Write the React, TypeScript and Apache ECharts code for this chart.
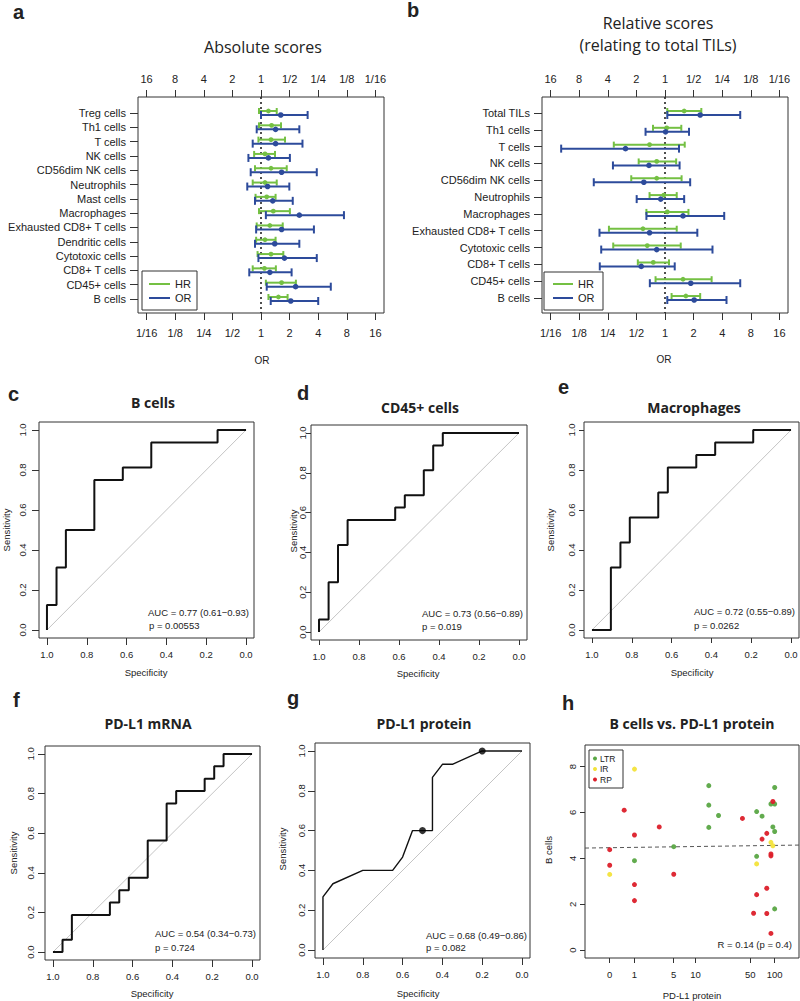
import React, { useEffect, useRef } from "react";
import * as echarts from "echarts";

const FONT = '"Liberation Sans", Arial, Helvetica, sans-serif';
const TFONT = '"Open Sans", "Noto Sans", sans-serif';
const INK = "#222";
const GREEN = "#74c043";
const BLUE = "#2d4b9b";

// ---------- Forest plots (values are log2 of the ratio: [lower, estimate, upper]) ----------
const LOG2_TICKS = [-4, -3, -2, -1, 0, 1, 2, 3, 4];
const OR_BOTTOM_LABELS = ["1/16", "1/8", "1/4", "1/2", "1", "2", "4", "8", "16"];
const OR_TOP_LABELS = ["16", "8", "4", "2", "1", "1/2", "1/4", "1/8", "1/16"];
const REF_LOG2 = 0;

const absCategories = [
  "Treg cells", "Th1 cells", "T cells", "NK cells", "CD56dim NK cells", "Neutrophils",
  "Mast cells", "Macrophages", "Exhausted CD8+ T cells", "Dendritic cells",
  "Cytotoxic cells", "CD8+ T cells", "CD45+ cells", "B cells",
];
const absHR = [
  [-0.07, 0.26, 0.55], [-0.07, 0.37, 0.7], [-0.09, 0.35, 0.84], [-0.24, 0.14, 0.49],
  [-0.21, 0.35, 0.9], [-0.29, 0.14, 0.55], [-0.19, 0.2, 0.51], [-0.07, 0.43, 1.01],
  [-0.15, 0.31, 0.76], [-0.17, 0.14, 0.51], [-0.12, 0.35, 0.78], [-0.29, 0.12, 0.52],
  [0.17, 0.72, 1.22], [0.26, 0.61, 0.93],
];
const absOR = [
  [0.0, 0.69, 1.63], [-0.15, 0.51, 1.34], [-0.29, 0.51, 1.45], [-0.44, 0.26, 1.01],
  [-0.36, 0.72, 1.95], [-0.48, 0.23, 0.99], [-0.21, 0.41, 1.11], [0.17, 1.34, 2.9],
  [-0.17, 0.72, 1.85], [-0.21, 0.48, 1.34], [-0.09, 0.82, 1.95], [-0.41, 0.31, 1.07],
  [0.2, 1.21, 2.44], [0.34, 1.04, 2.0],
];

const relCategories = [
  "Total TILs", "Th1 cells", "T cells", "NK cells", "CD56dim NK cells", "Neutrophils",
  "Macrophages", "Exhausted CD8+ T cells", "Cytotoxic cells", "CD8+ T cells",
  "CD45+ cells", "B cells",
];
const relHR = [
  [0.08, 0.67, 1.27], [-0.42, 0.06, 0.57], [-1.79, -0.54, 0.69], [-0.92, -0.29, 0.39],
  [-1.18, -0.29, 0.58], [-0.54, -0.04, 0.41], [-0.65, 0.08, 0.82], [-1.96, -0.77, 0.41],
  [-1.81, -0.62, 0.55], [-0.95, -0.41, 0.14], [-0.33, 0.63, 1.63], [0.23, 0.73, 1.23],
];
const relOR = [
  [0.08, 1.23, 2.63], [-0.68, 0.02, 0.84], [-3.63, -1.38, 0.49], [-1.82, -0.56, 0.51],
  [-2.49, -0.74, 0.88], [-0.99, -0.15, 0.67], [-0.65, 0.63, 2.07], [-2.29, -0.54, 1.13],
  [-2.23, -0.29, 1.66], [-2.28, -0.83, 0.34], [-0.53, 0.9, 2.63], [0.08, 1.02, 2.15],
];

// ---------- ROC curves ----------
const ROC_TICKS = [0, 0.2, 0.4, 0.6, 0.8, 1];
const bCellsSpec = [1, 1, 0.952, 0.905, 0.762, 0.619, 0.476, 0.143, 0];
const bCellsSens = [0, 0.125, 0.3125, 0.5, 0.75, 0.8125, 0.9375, 1, 1];
const cd45Spec = [1, 1, 0.952, 0.905, 0.857, 0.619, 0.571, 0.476, 0.429, 0.381, 0];
const cd45Sens = [0, 0.0625, 0.25, 0.4375, 0.5625, 0.625, 0.6875, 0.8125, 0.9375, 1, 1];
const macroSpec = [1, 0.905, 0.857, 0.81, 0.667, 0.619, 0.476, 0.381, 0.19, 0];
const macroSens = [0, 0.3125, 0.4375, 0.5625, 0.6875, 0.8125, 0.875, 0.9375, 1, 1];
const mrnaSpec = [1, 0.952, 0.905, 0.714, 0.667, 0.619, 0.524, 0.429, 0.381, 0.238, 0.19, 0.143, 0];
const mrnaSens = [0, 0.0625, 0.1875, 0.25, 0.3125, 0.375, 0.5625, 0.75, 0.8125, 0.875, 0.9375, 1, 1];
const proteinSpec = [1, 1, 0.95, 0.8, 0.65, 0.6, 0.55, 0.45, 0.45, 0.4, 0.35, 0.2, 0];
const proteinSens = [0, 0.267, 0.333, 0.4, 0.4, 0.467, 0.6, 0.6, 0.867, 0.933, 0.933, 1, 1];
const proteinCutSpec = [0.5, 0.2];
const proteinCutSens = [0.6, 1.0];

// ---------- Scatter: B cells vs PD-L1 protein ----------
const PDL1_TICKS = [0, 1, 5, 10, 50, 100];
const B_TICKS = [0, 2, 4, 6, 8];
const ltrPdl1 = [1, 5, 15, 15, 15, 20, 60, 60, 70, 90, 100, 100, 95, 100, 100];
const ltrB = [3.9, 4.51, 7.17, 6.32, 5.35, 5.87, 6.04, 4.09, 5.84, 6.37, 6.37, 7.09, 5.37, 5.17, 1.8];
const irPdl1 = [0, 1, 60, 90, 95];
const irB = [3.3, 7.89, 3.76, 4.7, 4.55];
const rpPdl1 = [0, 0, 0.5, 1, 1, 1, 3, 5, 40, 60, 55, 70, 80, 80, 80, 90, 90, 90, 95];
const rpB = [4.38, 3.7, 6.1, 5.02, 2.86, 2.16, 5.37, 3.31, 5.74, 2.42, 1.61, 4.84, 5.09, 2.7, 1.6, 4.19, 4.11, 0.73, 6.48];
const REG_INTERCEPT = 4.465; // fitted line in log10(x+1) space
const REG_SLOPE = 0.05;

const lg = (v: number) => Math.log10(v + 1);

function buildOption() {
  const grids: any[] = [];
  const xAxes: any[] = [];
  const yAxes: any[] = [];
  const series: any[] = [];
  const graphics: any[] = [];

  const txt = (x: number, y: number, text: string, o: any = {}) => {
    graphics.push({
      type: "text",
      x,
      y,
      rotation: o.rotation || 0,
      z: 100,
      silent: true,
      style: {
        text,
        font: o.font || `9.5px ${FONT}`,
        fill: o.fill || INK,
        align: o.align || "center",
        verticalAlign: "middle",
      },
    });
  };

  const addGrid = (l: number, t: number, r: number, b: number) => {
    grids.push({
      left: l, top: t, width: r - l, height: b - t,
      show: true, borderColor: "#333", borderWidth: 1,
      backgroundColor: "transparent", containLabel: false, outerBoundsMode: "none",
    });
    return grids.length - 1;
  };

  const noLine = { show: false, onZero: false };
  const tickStyle = (len: number) => ({ show: true, inside: false, length: len, lineStyle: { color: "#333", width: 1 } });

  // ---------------- Forest panel ----------------
  const addForest = (
    l: number, t: number, r: number, b: number,
    cats: string[], hr: number[][], or: number[][], yMin: number, yMax: number
  ) => {
    const gi = addGrid(l, t, r, b);
    const rows = cats.map((_, i) => i + 1);
    const xb = xAxes.length;
    xAxes.push({
      gridIndex: gi, type: "value", position: "bottom", min: -4.3, max: 4.3,
      axisLine: noLine, splitLine: { show: false },
      axisTick: { ...tickStyle(7), customValues: LOG2_TICKS },
      axisLabel: {
        customValues: LOG2_TICKS, margin: 14, fontSize: 11, fontFamily: FONT, color: INK,
        formatter: (v: number) => OR_BOTTOM_LABELS[LOG2_TICKS.indexOf(Math.round(v))],
      },
    });
    xAxes.push({
      gridIndex: gi, type: "value", position: "top", min: -4.3, max: 4.3,
      axisLine: noLine, splitLine: { show: false },
      axisTick: { ...tickStyle(7), customValues: LOG2_TICKS },
      axisLabel: {
        customValues: LOG2_TICKS, margin: 13, fontSize: 11, fontFamily: FONT, color: INK,
        formatter: (v: number) => OR_TOP_LABELS[LOG2_TICKS.indexOf(Math.round(v))],
      },
    });
    const yi = yAxes.length;
    yAxes.push({
      gridIndex: gi, type: "value", inverse: true, min: yMin, max: yMax,
      axisLine: noLine, splitLine: { show: false },
      axisTick: { ...tickStyle(8), customValues: rows },
      axisLabel: {
        customValues: rows, margin: 12, fontSize: 11, fontFamily: FONT, color: INK,
        formatter: (v: number) => cats[Math.round(v) - 1],
      },
    });
    series.push({
      type: "line", xAxisIndex: xb, yAxisIndex: yi, symbol: "none", silent: true, z: 1,
      data: [[REF_LOG2, yMin], [REF_LOG2, yMax]],
      lineStyle: { color: "#222", width: 1.6, type: [2, 3] },
    });
    const bars = (rowsData: number[][], color: string, dy: number, cap: number, rad: number) => ({
      type: "custom", coordinateSystem: "cartesian2d", xAxisIndex: xb, yAxisIndex: yi, silent: true, z: 3,
      data: rowsData.map((d, i) => [d[0], d[1], d[2], i + 1]),
      encode: { x: [0, 1, 2], y: 3 },
      renderItem: (_p: any, api: any) => {
        const yv = api.value(3);
        const lo = api.coord([api.value(0), yv]);
        const es = api.coord([api.value(1), yv]);
        const hi = api.coord([api.value(2), yv]);
        const y = lo[1] + dy;
        const st = { stroke: color, lineWidth: 2 };
        return {
          type: "group",
          children: [
            { type: "line", shape: { x1: lo[0], y1: y, x2: hi[0], y2: y }, style: st },
            { type: "line", shape: { x1: lo[0], y1: y - cap, x2: lo[0], y2: y + cap }, style: st },
            { type: "line", shape: { x1: hi[0], y1: y - cap, x2: hi[0], y2: y + cap }, style: st },
            { type: "circle", shape: { cx: es[0], cy: y, r: rad }, style: { fill: color } },
          ],
        };
      },
    });
    series.push(bars(hr, GREEN, -2, 3, 2.4));
    series.push(bars(or, BLUE, 2, 4, 2.8));
  };

  // ---------------- ROC panel ----------------
  const addRoc = (
    l: number, t: number, r: number, b: number,
    spec: number[], sens: number[],
    o: { step: boolean; lw: number; yMargin: number; tick: number; dotsSpec?: number[]; dotsSens?: number[] }
  ) => {
    const gi = addGrid(l, t, r, b);
    const xi = xAxes.length;
    xAxes.push({
      gridIndex: gi, type: "value", inverse: true, min: -0.04, max: 1.04,
      axisLine: noLine, splitLine: { show: false },
      axisTick: { ...tickStyle(o.tick), customValues: ROC_TICKS },
      axisLabel: {
        customValues: ROC_TICKS, margin: 11, fontSize: 9.5, fontFamily: FONT, color: INK,
        formatter: (v: number) => v.toFixed(1),
      },
    });
    const yi = yAxes.length;
    yAxes.push({
      gridIndex: gi, type: "value", min: -0.04, max: 1.04,
      axisLine: noLine, splitLine: { show: false },
      axisTick: { ...tickStyle(o.tick), customValues: ROC_TICKS },
      axisLabel: {
        customValues: ROC_TICKS, margin: o.yMargin, rotate: 90, fontSize: 9.5, fontFamily: FONT, color: INK,
        formatter: (v: number) => v.toFixed(1),
      },
    });
    series.push({
      type: "line", xAxisIndex: xi, yAxisIndex: yi, symbol: "none", silent: true, z: 1,
      data: [[1, 0], [0, 1]], lineStyle: { color: "#c4c4c4", width: 1 },
    });
    series.push({
      type: "line", xAxisIndex: xi, yAxisIndex: yi, symbol: "none", silent: true, z: 3,
      step: o.step ? "end" : false,
      data: spec.map((s, i) => [s, sens[i]]),
      lineStyle: { color: "#111", width: o.lw },
    });
    if (o.dotsSpec && o.dotsSens) {
      const ds = o.dotsSens;
      series.push({
        type: "scatter", xAxisIndex: xi, yAxisIndex: yi, symbolSize: 7, silent: true, z: 4,
        data: o.dotsSpec.map((s, i) => [s, ds[i]]), itemStyle: { color: "#000" },
      });
    }
  };

  // ---------------- Scatter panel ----------------
  const addScatter = (l: number, t: number, r: number, b: number) => {
    const gi = addGrid(l, t, r, b);
    const xi = xAxes.length;
    const xMin = -0.3;
    const xMax = 2.3;
    const tv = PDL1_TICKS.map(lg);
    xAxes.push({
      gridIndex: gi, type: "value", min: xMin, max: xMax,
      axisLine: noLine, splitLine: { show: false },
      axisTick: { ...tickStyle(5), customValues: tv },
      axisLabel: {
        customValues: tv, margin: 11, fontSize: 9.5, fontFamily: FONT, color: INK,
        formatter: (v: number) => {
          let best = 0;
          tv.forEach((t, i) => { if (Math.abs(t - v) < Math.abs(tv[best] - v)) best = i; });
          return String(PDL1_TICKS[best]);
        },
      },
    });
    const yi = yAxes.length;
    yAxes.push({
      gridIndex: gi, type: "value", min: -0.34, max: 8.94,
      axisLine: noLine, splitLine: { show: false },
      axisTick: { ...tickStyle(5), customValues: B_TICKS },
      axisLabel: {
        customValues: B_TICKS, margin: 8, rotate: 90, fontSize: 9.5, fontFamily: FONT, color: INK,
        formatter: (v: number) => String(Math.round(v)),
      },
    });
    const grp = (xs: number[], ys: number[], color: string) => ({
      type: "scatter", xAxisIndex: xi, yAxisIndex: yi, symbolSize: 5, silent: true, z: 3,
      data: xs.map((v, i) => [lg(v), ys[i]]), itemStyle: { color, opacity: 0.95 },
    });
    series.push(grp(ltrPdl1, ltrB, "#5aa745"));
    series.push(grp(irPdl1, irB, "#f3e33b"));
    series.push(grp(rpPdl1, rpB, "#dc1f2a"));
    series.push({
      type: "line", xAxisIndex: xi, yAxisIndex: yi, symbol: "none", silent: true, z: 2,
      data: [[xMin, REG_INTERCEPT + REG_SLOPE * xMin], [xMax, REG_INTERCEPT + REG_SLOPE * xMax]],
      lineStyle: { color: "#555", width: 1, type: [4, 3] },
    });
  };

  // ---------- build panels ----------
  addForest(138, 97, 384, 313, absCategories, absHR, absOR, -0.12, 14.98);
  addForest(542, 97, 788, 313, relCategories, relHR, relOR, 0.05, 12.89);

  addRoc(39, 422, 254, 638, bCellsSpec, bCellsSens, { step: true, lw: 2, yMargin: 12, tick: 7 });
  addRoc(311, 425, 527, 640, cd45Spec, cd45Sens, { step: true, lw: 2, yMargin: 4, tick: 5 });
  addRoc(584, 422, 799, 638, macroSpec, macroSens, { step: true, lw: 2, yMargin: 8, tick: 5 });
  addRoc(45, 746, 260, 960, mrnaSpec, mrnaSens, { step: true, lw: 2, yMargin: 10, tick: 7 });
  addRoc(315, 743, 530, 958, proteinSpec, proteinSens, {
    step: false, lw: 1.4, yMargin: 9, tick: 7, dotsSpec: proteinCutSpec, dotsSens: proteinCutSens,
  });
  addScatter(585, 745, 799, 958);

  // ---------- forest legends ----------
  const forestLegend = (x: number, y: number, w: number, h: number, lx1: number, lx2: number, tx: number, y1: number, y2: number) => {
    graphics.push({ type: "rect", z: 100, silent: true, shape: { x, y, width: w, height: h }, style: { fill: "#fff", stroke: "#333", lineWidth: 1 } });
    graphics.push({ type: "line", z: 101, silent: true, shape: { x1: lx1, y1, x2: lx2, y2: y1 }, style: { stroke: GREEN, lineWidth: 2 } });
    graphics.push({ type: "line", z: 101, silent: true, shape: { x1: lx1, y1: y2, x2: lx2, y2 }, style: { stroke: BLUE, lineWidth: 2 } });
    txt(tx, y1, "HR", { align: "left", font: `11px ${FONT}` });
    txt(tx, y2, "OR", { align: "left", font: `11px ${FONT}` });
  };
  forestLegend(142, 271, 55, 39, 149, 170, 175, 284, 298);
  forestLegend(544, 272, 59, 38, 553, 573, 578, 284, 298);

  // scatter legend
  graphics.push({ type: "rect", z: 100, silent: true, shape: { x: 589, y: 750, width: 34, height: 38 }, style: { fill: "#fff", stroke: "#333", lineWidth: 1 } });
  const legItems: [string, string, number][] = [["LTR", "#5aa745", 758.5], ["IR", "#f3e33b", 769], ["RP", "#dc1f2a", 779.5]];
  legItems.forEach(([lab, col, yy]) => {
    graphics.push({ type: "circle", z: 101, silent: true, shape: { cx: 595, cy: yy, r: 2 }, style: { fill: col } });
    txt(600, yy, lab, { align: "left", font: `8.5px ${FONT}` });
  });

  // ---------- panel letters ----------
  const LET = `bold 20px ${FONT}`;
  txt(13, 12, "a", { align: "left", font: LET });
  txt(407, 10, "b", { align: "left", font: LET });
  txt(8, 394, "c", { align: "left", font: LET });
  txt(297, 393, "d", { align: "left", font: LET });
  txt(558, 387, "e", { align: "left", font: LET });
  txt(13, 700, "f", { align: "left", font: LET });
  txt(287, 698, "g", { align: "left", font: LET });
  txt(562, 703, "h", { align: "left", font: LET });

  // ---------- titles ----------
  const T1 = `16px ${TFONT}`;
  const T2 = `bold 14px ${TFONT}`;
  txt(263, 47, "Absolute scores", { font: T1 });
  txt(658, 23, "Relative scores", { font: T1 });
  txt(658, 45, "(relating to total TILs)", { font: T1 });
  txt(153, 402, "B cells", { font: T2 });
  txt(420, 407, "CD45+ cells", { font: T2 });
  txt(694, 407, "Macrophages", { font: T2 });
  txt(148, 723, "PD-L1 mRNA", { font: T2 });
  txt(424, 723, "PD-L1 protein", { font: T2 });
  txt(692, 723, "B cells vs. PD-L1 protein", { font: T2 });

  // ---------- axis names ----------
  const AX = `9.5px ${FONT}`;
  const R90 = Math.PI / 2;
  txt(262, 360, "OR", { font: `10px ${FONT}` });
  txt(664, 359, "OR", { font: `10px ${FONT}` });
  txt(146, 672, "Specificity", { font: AX });
  txt(6, 530, "Sensitivity", { font: AX, rotation: R90 });
  txt(418, 673, "Specificity", { font: AX });
  txt(293, 531, "Sensitivity", { font: AX, rotation: R90 });
  txt(692, 672, "Specificity", { font: AX });
  txt(550, 530, "Sensitivity", { font: AX, rotation: R90 });
  txt(152, 993, "Specificity", { font: AX });
  txt(13, 853, "Sensitivity", { font: AX, rotation: R90 });
  txt(418, 993, "Specificity", { font: AX });
  txt(282, 849, "Sensitivity", { font: AX, rotation: R90 });
  txt(692, 995, "PD-L1 protein", { font: AX });
  txt(548, 850, "B cells", { font: AX, rotation: R90 });

  // ---------- statistics ----------
  txt(148, 612, "AUC = 0.77 (0.61\u22120.93)", { align: "left", font: AX });
  txt(149, 625, "p = 0.00553", { align: "left", font: AX });
  txt(422, 613, "AUC = 0.73 (0.56\u22120.89)", { align: "left", font: AX });
  txt(422, 626, "p = 0.019", { align: "left", font: AX });
  txt(694, 611, "AUC = 0.72 (0.55\u22120.89)", { align: "left", font: AX });
  txt(694, 625, "p = 0.0262", { align: "left", font: AX });
  txt(155, 933, "AUC = 0.54 (0.34\u22120.73)", { align: "left", font: AX });
  txt(155, 947, "p = 0.724", { align: "left", font: AX });
  txt(426, 935, "AUC = 0.68 (0.49\u22120.86)", { align: "left", font: AX });
  txt(426, 947, "p = 0.082", { align: "left", font: AX });
  txt(792, 944, "R = 0.14 (p = 0.4)", { align: "right", font: AX });

  return {
    animation: false,
    backgroundColor: "#ffffff",
    grid: grids,
    xAxis: xAxes,
    yAxis: yAxes,
    series,
    graphic: graphics,
  };
}

export default function App() {
  const ref = useRef<HTMLDivElement>(null);
  useEffect(() => {
    if (!ref.current) return;
    const chart = echarts.init(ref.current, null, { renderer: "svg" });
    chart.setOption(buildOption() as any);
    return () => chart.dispose();
  }, []);
  return (
    <div
      ref={ref}
      style={{ position: "absolute", left: 0, top: 0, width: 800, height: 1001, background: "#fff" }}
    />
  );
}
